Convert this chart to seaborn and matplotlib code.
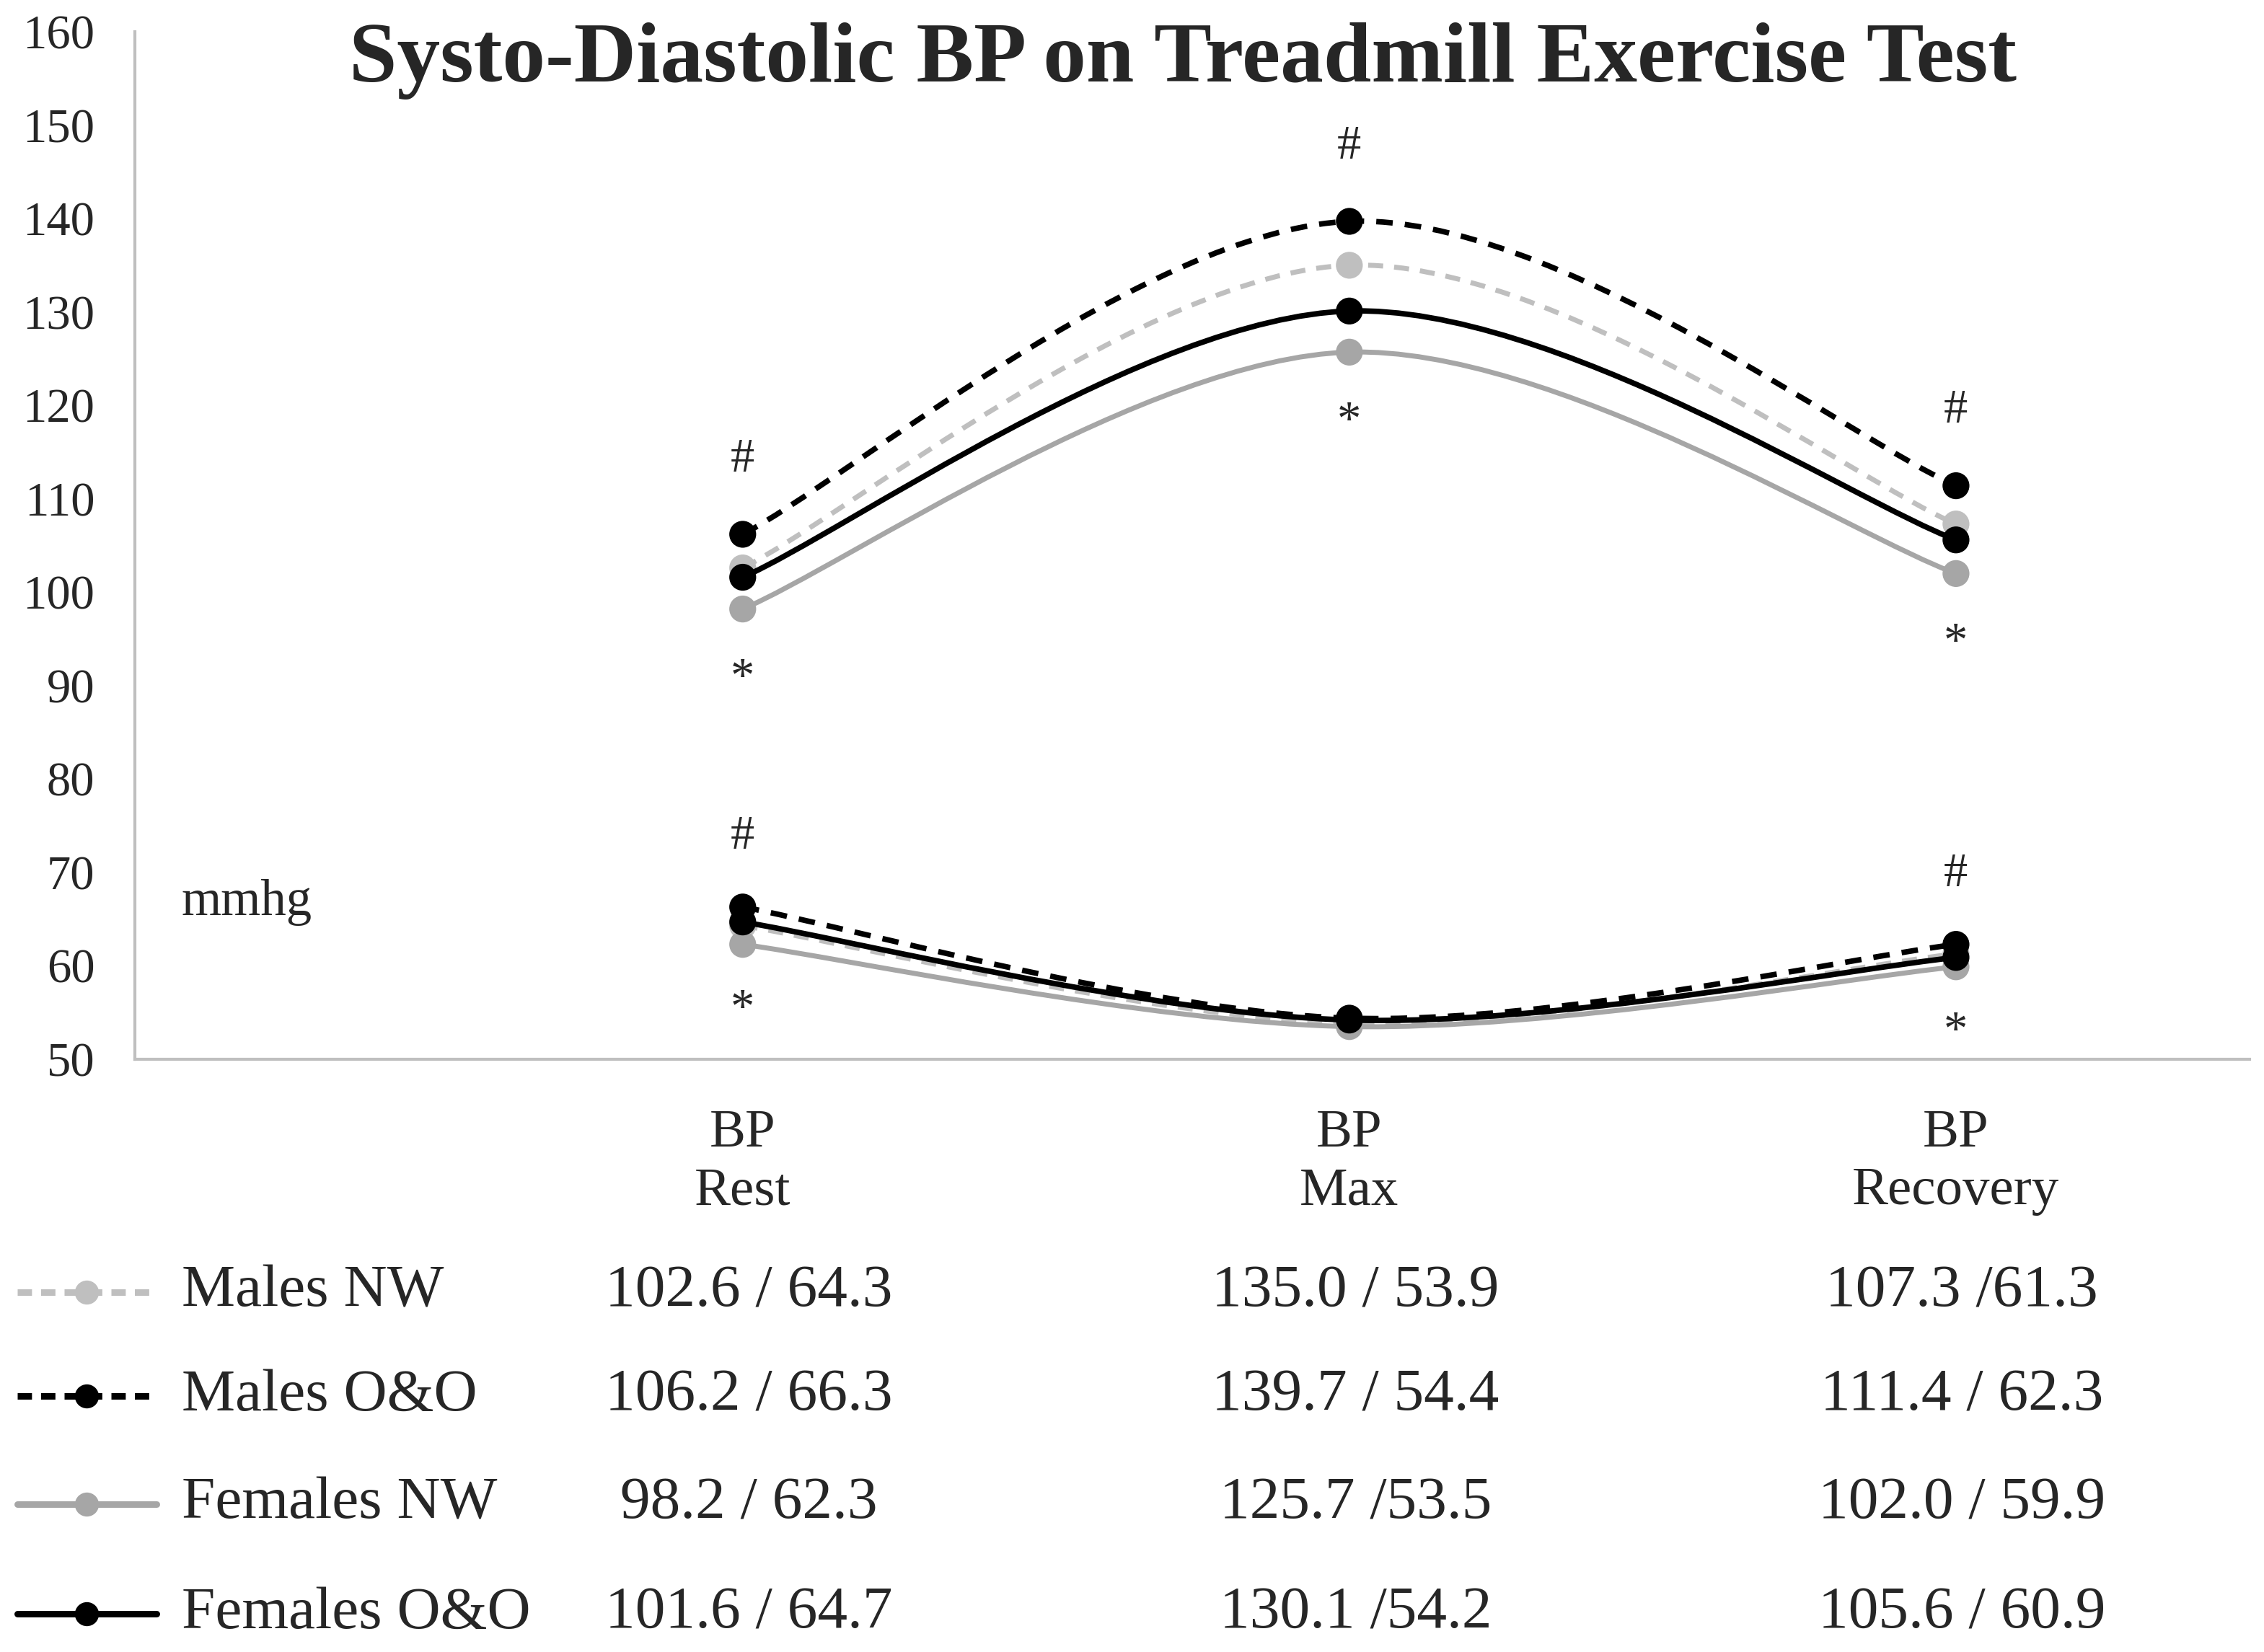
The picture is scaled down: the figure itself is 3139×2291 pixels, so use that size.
import numpy as np
import pandas as pd
import seaborn as sns
import matplotlib.pyplot as plt
from matplotlib.path import Path
from matplotlib.patches import PathPatch
from matplotlib.lines import Line2D
from matplotlib.transforms import blended_transform_factory

# data
phases = ["BP\nRest", "BP\nMax", "BP\nRecovery"]
groups = ["Males NW", "Males O&O", "Females NW", "Females O&O"]

males_nw_sys = [102.6, 135.0, 107.3]
males_nw_dia = [64.3, 53.9, 61.3]
males_oo_sys = [106.2, 139.7, 111.4]
males_oo_dia = [66.3, 54.4, 62.3]
females_nw_sys = [98.2, 125.7, 102.0]
females_nw_dia = [62.3, 53.5, 59.9]
females_oo_sys = [101.6, 130.1, 105.6]
females_oo_dia = [64.7, 54.2, 60.9]

table_text = [
    ["102.6 / 64.3", "135.0 / 53.9", "107.3 /61.3"],
    ["106.2 / 66.3", "139.7 / 54.4", "111.4 / 62.3"],
    ["98.2 / 62.3", "125.7 /53.5", "102.0 / 59.9"],
    ["101.6 / 64.7", "130.1 /54.2", "105.6 / 60.9"],
]

sys_top = ["#", "#", "#"]
sys_bottom = ["*", "*", "*"]
dia_top = ["#", "", "#"]
dia_bottom = ["*", "", "*"]

y_ticks = list(range(50, 161, 10))

# styles
colors = {"Males NW": "#BFBFBF", "Males O&O": "#000000",
          "Females NW": "#A6A6A6", "Females O&O": "#000000"}
dashed = {"Males NW": True, "Males O&O": True, "Females NW": False, "Females O&O": False}
widths = {"Males NW": 5.0, "Males O&O": 5.5, "Females NW": 5.0, "Females O&O": 5.5}
draw_order = ["Males NW", "Females NW", "Males O&O", "Females O&O"]

sys_vals = {"Males NW": males_nw_sys, "Males O&O": males_oo_sys,
            "Females NW": females_nw_sys, "Females O&O": females_oo_sys}
dia_vals = {"Males NW": males_nw_dia, "Males O&O": males_oo_dia,
            "Females NW": females_nw_dia, "Females O&O": females_oo_dia}

rows = []
for g in groups:
    for i in range(len(phases)):
        rows.append({"group": g, "phase": i, "kind": "sys", "value": sys_vals[g][i]})
        rows.append({"group": g, "phase": i, "kind": "dia", "value": dia_vals[g][i]})
df = pd.DataFrame(rows)


def smooth_path(xs, ys):
    # excel-like smoothed line, catmull-rom as cubic bezier
    pts = np.column_stack([xs, ys]).astype(float)
    n = len(pts)
    verts = [pts[0]]
    codes = [Path.MOVETO]
    for i in range(n - 1):
        p0 = pts[max(i - 1, 0)]
        p1 = pts[i]
        p2 = pts[i + 1]
        p3 = pts[min(i + 2, n - 1)]
        verts += [p1 + (p2 - p0) / 6, p2 - (p3 - p1) / 6, p2]
        codes += [Path.CURVE4] * 3
    return Path(verts, codes)


sns.set_style("white")
plt.rcParams["font.family"] = ["Liberation Serif", "DejaVu Serif"]

W, H = 3139, 2291
fig = plt.figure(figsize=(W / 100, H / 100), dpi=100)
ax = fig.add_axes([187 / W, 1 - 1469 / H, (3119 - 187) / W, (1469 - 44) / H])

x = np.arange(len(phases))
for z, g in enumerate(draw_order):
    ls = (0, (3.0, 2.2)) if dashed[g] else "-"
    for vals in (sys_vals[g], dia_vals[g]):
        patch = PathPatch(smooth_path(x, vals), fill=False, edgecolor=colors[g],
                          lw=widths[g], linestyle=ls, capstyle="butt", zorder=2 + z)
        ax.add_patch(patch)
    sub = df[df["group"] == g]
    sns.scatterplot(data=sub, x="phase", y="value", color=colors[g], s=720,
                    edgecolor="none", ax=ax, zorder=2.5 + z, legend=False)

# significance marks
for i in range(len(phases)):
    s_hi = max(sys_vals[g][i] for g in groups)
    s_lo = min(sys_vals[g][i] for g in groups)
    d_hi = max(dia_vals[g][i] for g in groups)
    d_lo = min(dia_vals[g][i] for g in groups)
    ax.text(i, s_hi + 8, sys_top[i], ha="center", va="center", fontsize=48)
    ax.text(i, s_lo - 7.5, sys_bottom[i], ha="center", va="center", fontsize=48)
    ax.text(i, d_hi + 7.5, dia_top[i], ha="center", va="center", fontsize=48)
    ax.text(i, d_lo - 7.0, dia_bottom[i], ha="center", va="center", fontsize=48)

ax.set_xlim(-1.002, 2.484)
ax.set_ylim(50, 160)
ax.set_yticks(y_ticks)
ax.set_yticklabels([str(t) for t in y_ticks], fontsize=48)
ax.set_xticks(x)
ax.set_xticklabels(phases, fontsize=54)
for lbl in ax.get_xticklabels():
    lbl.set_linespacing(1.25)
ax.tick_params(axis="y", length=0, pad=40)
ax.tick_params(axis="x", length=0, pad=50)
ax.set_xlabel("")
ax.set_ylabel("")
sns.despine(ax=ax)
for side in ("left", "bottom"):
    ax.spines[side].set_color("#BFBFBF")
    ax.spines[side].set_linewidth(3)

fig.text(1640 / W, 1 - 85 / H, "Systo-Diastolic BP on Treadmill Exercise Test",
         ha="center", va="center", fontsize=86, fontweight="bold")
fig.text(342 / W, 1 - 1251 / H, "mmhg", ha="center", va="center", fontsize=51)

# legend / value table below the axis
row_y = [1792, 1936, 2086, 2238]
tr = blended_transform_factory(ax.transData, fig.transFigure)
for r, g in enumerate(groups):
    yf = 1 - row_y[r] / H
    ls = (0, (2.2, 1.4)) if dashed[g] else "-"
    fig.add_artist(Line2D([24 / W, 217 / W], [yf, yf], transform=fig.transFigure,
                          color=colors[g], lw=6.5, linestyle=ls))
    fig.add_artist(Line2D([120 / W], [yf], transform=fig.transFigure, marker="o",
                          markersize=24, color=colors[g], markeredgewidth=0))
    fig.text(252 / W, yf, g, ha="left", va="center", fontsize=60)
    for i in range(len(phases)):
        ax.text(i + 0.01, yf, table_text[r][i], transform=tr, ha="center",
                va="center", fontsize=60)

fig.savefig("out.png", dpi=100)
